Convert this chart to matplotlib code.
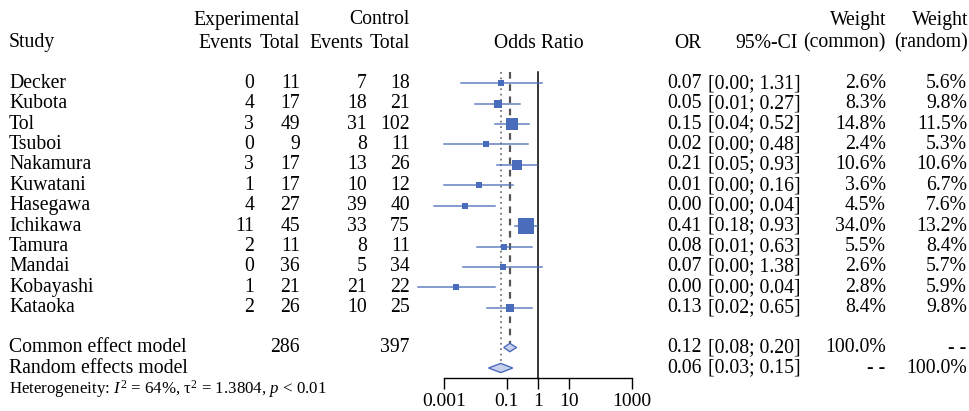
import matplotlib
matplotlib.use("Agg")
import matplotlib.pyplot as plt
from matplotlib.patches import Polygon
import numpy as np

# Data
studies = ["Decker", "Kubota", "Tol", "Tsuboi", "Nakamura", "Kuwatani",
           "Hasegawa", "Ichikawa", "Tamura", "Mandai", "Kobayashi", "Kataoka"]
exp_events = [0, 4, 3, 0, 3, 1, 4, 11, 2, 0, 1, 2]
exp_total = [11, 17, 49, 9, 17, 17, 27, 45, 11, 36, 21, 26]
ctl_events = [7, 18, 31, 8, 13, 10, 39, 33, 8, 5, 21, 10]
ctl_total = [18, 21, 102, 11, 26, 12, 40, 75, 11, 34, 22, 25]
odds = [0.067, 0.051, 0.149, 0.0217, 0.214, 0.0125, 0.00446, 0.412, 0.083, 0.0735, 0.00238, 0.125]
ci_low = [0.0034, 0.0098, 0.043, 0.00097, 0.0495, 0.0010, 0.00047, 0.182, 0.011, 0.0039, 0.00014, 0.024]
ci_high = [1.31, 0.269, 0.517, 0.483, 0.928, 0.156, 0.042, 0.934, 0.633, 1.38, 0.0407, 0.650]
w_common = [2.6, 8.3, 14.8, 2.4, 10.6, 3.6, 4.5, 34.0, 5.5, 2.6, 2.8, 8.4]
w_random = [5.6, 9.8, 11.5, 5.3, 10.6, 6.7, 7.6, 13.2, 8.4, 5.7, 5.9, 9.8]
or_text = ["0.07", "0.05", "0.15", "0.02", "0.21", "0.01", "0.00", "0.41", "0.08", "0.07", "0.00", "0.13"]
ci_text = ["[0.00; 1.31]", "[0.01; 0.27]", "[0.04; 0.52]", "[0.00; 0.48]", "[0.05; 0.93]",
           "[0.00; 0.16]", "[0.00; 0.04]", "[0.18; 0.93]", "[0.01; 0.63]", "[0.00; 1.38]",
           "[0.00; 0.04]", "[0.02; 0.65]"]
common_est, common_lo, common_hi = 0.125, 0.080, 0.205
random_est, random_lo, random_hi = 0.064, 0.026, 0.155
ticks = [0.001, 0.1, 1, 10, 1000]
tick_labels = ["0.001", "0.1", "1", "10", "1000"]

plt.rcParams['font.family'] = ['Liberation Serif', 'DejaVu Serif']
plt.rcParams['mathtext.fontset'] = 'custom'
plt.rcParams['mathtext.rm'] = 'Liberation Serif'
plt.rcParams['mathtext.it'] = 'Liberation Serif:italic'

BLUE = '#4A6CBD'
FS = 14.2

# column anchors (pixels)
X_STUDY, X_EEV, X_ETOT, X_CEV, X_CTOT = 9, 254, 300, 367, 410
X_OR, X_CI, X_WC, X_WR = 702, 708, 886, 967

fig = plt.figure(figsize=(9.69, 4.11), dpi=100)
tax = fig.add_axes([0, 0, 1, 1])
tax.set_xlim(0, 969)
tax.set_ylim(411, 0)
tax.axis('off')

# forest panel: log x scale, same pixel-based y as text axes
px0, px_per_dec = 538, 31.2
left_px = px0 - 4.5 * px_per_dec
fax = fig.add_axes([left_px / 969, 0, 9 * px_per_dec / 969, 1])
fax.set_xscale('log')
fax.set_xlim(10 ** -4.5, 10 ** 4.5)
fax.set_ylim(411, 0)
fax.patch.set_alpha(0)
for s in ['top', 'left', 'right']:
    fax.spines[s].set_visible(False)
fax.spines['bottom'].set_position(('data', 378))
fax.spines['bottom'].set_bounds(0.001, 1000)
fax.spines['bottom'].set_linewidth(1.0)
fax.set_yticks([])
fax.set_xticks(ticks)
fax.set_xticklabels(tick_labels, fontsize=14)
fax.xaxis.set_minor_locator(matplotlib.ticker.NullLocator())
fax.tick_params(axis='x', direction='out', length=8, width=1.0, pad=3)

row0, dy = 83.3, 20.4
rows = [row0 + dy * i for i in range(len(studies))]
y_common, y_random, y_het = 347.5, 368, 389

# reference lines
fax.plot([1, 1], [72, 378], color='black', lw=1.1, zorder=2)
fax.plot([common_est, common_est], [72, 343], color='#555555', lw=1.6,
         ls=(0, (3, 2.5)), zorder=1)
fax.plot([random_est, random_est], [72, 364], color='#777777', lw=1.3,
         ls=(0, (1, 2)), zorder=1)

# study CIs and squares
for y, o, lo, hi, w in zip(rows, odds, ci_low, ci_high, w_common):
    fax.plot([lo, hi], [y, y], color=BLUE, lw=1.1, alpha=0.85, zorder=3)
    side_px = max(16.7 * np.sqrt(w / 34.0), 5.8)
    side_pt = side_px * 0.72
    fax.scatter([o], [y], marker='s', s=side_pt ** 2, color=BLUE, linewidths=0, zorder=4)

# diamonds
for est, lo, hi, y, h in [(common_est, common_lo, common_hi, y_common, 4.2),
                          (random_est, random_lo, random_hi, y_random, 4.6)]:
    dia = Polygon([(lo, y), (est, y - h), (hi, y), (est, y + h)], closed=True,
                  facecolor='#C7D1EC', edgecolor=BLUE, lw=1.0, zorder=4)
    fax.add_patch(dia)


def txt(x, y, s, ha='right', **kw):
    tax.text(x, y, s, ha=ha, va='center', fontsize=kw.pop('fontsize', FS), **kw)


# headers
hy1, hy2 = 20, 43
txt(X_ETOT, hy1, "Experimental")
txt(X_CTOT, hy1, "Control")
txt(X_WC, hy1, "Weight")
txt(X_WR + 1, hy1, "Weight")
txt(X_STUDY, hy2, "Study", ha='left')
txt(X_EEV - 2, hy2, "Events")
txt(X_ETOT, hy2, "Total")
txt(X_CEV - 4, hy2, "Events")
txt(X_CTOT, hy2, "Total")
txt(539, hy2, "Odds Ratio", ha='center')
txt(X_OR, hy2, "OR")
txt(798, hy2, "95%-CI")
txt(X_WC, hy2, "(common)")
txt(X_WR + 1, hy2, "(random)")

# study rows
for i, y in enumerate(rows):
    txt(X_STUDY, y, studies[i], ha='left')
    txt(X_EEV, y, str(exp_events[i]))
    txt(X_ETOT, y, str(exp_total[i]))
    txt(X_CEV, y, str(ctl_events[i]))
    txt(X_CTOT, y, str(ctl_total[i]))
    txt(X_OR, y, or_text[i])
    txt(X_CI, y, ci_text[i], ha='left')
    txt(X_WC, y, f"{w_common[i]:.1f}%")
    txt(X_WR, y, f"{w_random[i]:.1f}%")

# pooled rows
txt(X_STUDY, y_common, "Common effect model", ha='left')
txt(X_ETOT, y_common, str(sum(exp_total)))
txt(X_CTOT, y_common, str(sum(ctl_total)))
txt(X_OR, y_common, f"{common_est:.2f}")
txt(X_CI, y_common, "[0.08; 0.20]", ha='left')
txt(X_WC, y_common, "100.0%")
txt(X_WR - 1, y_common, "- -", fontweight='bold')

txt(X_STUDY, y_random, "Random effects model", ha='left')
txt(X_OR, y_random, f"{random_est:.2f}")
txt(X_CI, y_random, "[0.03; 0.15]", ha='left')
txt(X_WC - 1, y_random, "- -", fontweight='bold')
txt(X_WR, y_random, "100.0%")

txt(X_STUDY, y_het, r"Heterogeneity: $I^2$ = 64%, τ$^2$ = 1.3804, $p$ < 0.01",
    ha='left', fontsize=12.2)

fig.savefig("out.png", dpi=100)
